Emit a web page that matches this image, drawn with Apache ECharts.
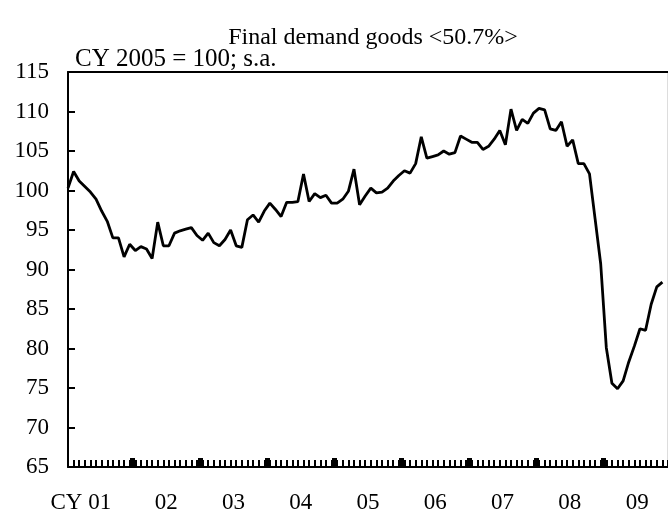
<!DOCTYPE html>
<html>
<head>
<meta charset="utf-8">
<script src="https://cdn.jsdelivr.net/npm/echarts@6/dist/echarts.min.js"></script>
<style>
    html, body { margin: 0; padding: 0; background: #fff; }
    #chart { width: 668px; height: 514px; }
</style>
</head>
<body>
<div id="chart"></div>
<script>
    // monthly index, CY 2005 = 100, Jan 2001 .. Nov 2009
    const yearLabels = ['CY 01', '02', '03', '04', '05', '06', '07', '08', '09'];
    const yTicks = [65, 115, 5]; // min, max, step

    const values = [
        100.3, 102.4, 101.2, 100.5, 99.8, 98.9, 97.4, 96.1, 94.0, 94.0, 91.6, 93.2,
        92.4, 92.9, 92.6, 91.4, 96.0, 93.0, 93.0, 94.6, 94.9, 95.1, 95.3, 94.3,
        93.7, 94.6, 93.4, 93.0, 93.8, 95.0, 93.0, 92.8, 96.3, 96.9, 96.0, 97.4,
        98.4, 97.6, 96.7, 98.5, 98.5, 98.6, 102.1, 98.6, 99.6, 99.1, 99.4, 98.4,
        98.4, 98.9, 99.9, 102.7, 98.2, 99.3, 100.3, 99.7, 99.8, 100.3, 101.2, 101.9,
        102.5, 102.2, 103.4, 106.8, 104.1, 104.3, 104.5, 105.0, 104.6, 104.8, 106.9, 106.5,
        106.1, 106.1, 105.2, 105.6, 106.5, 107.6, 105.8, 110.3, 107.6, 109.0, 108.5, 109.8,
        110.4, 110.2, 107.8, 107.6, 108.7, 105.6, 106.4, 103.4, 103.4, 102.1, 96.4, 90.7,
        80.1, 75.6, 74.9, 75.9, 78.3, 80.3, 82.5, 82.3, 85.6, 87.8, 88.4
    ];

    // 108 month slots: 2001/01 .. 2009/12
    const months = [];
    for (let y = 2001; y <= 2009; y++) {
        for (let m = 1; m <= 12; m++) {
            months.push(y + '/' + (m < 10 ? '0' + m : m));
        }
    }

    const yearEdges = [];
    const yearMids = [];
    for (let k = 0; k < yearLabels.length; k++) {
        if (k > 0) yearEdges.push(12 * k - 0.5);
        yearMids.push(12 * k + 5.5);
    }

    const font = 'Liberation Serif';
    const chart = echarts.init(document.getElementById('chart'));

    chart.setOption({
        animation: false,
        title: [{
            text: 'Final demand goods <50.7%>',
            left: 368,
            top: 21,
            textAlign: 'center',
            textStyle: { fontFamily: font, fontSize: 24, fontWeight: 'normal', color: '#000' }
        }, {
            text: 'CY 2005 = 100; s.a.',
            left: 70,
            top: 42,
            textStyle: { fontFamily: font, fontSize: 25, fontWeight: 'normal', color: '#000' }
        }],
        grid: {
            left: 68,
            right: 0,
            top: 72,
            bottom: 47,
            show: true,
            borderColor: '#bbb',
            borderWidth: 1
        },
        xAxis: [{
            type: 'category',
            data: months,
            boundaryGap: false,
            axisLine: { lineStyle: { color: '#000', width: 2 } },
            axisTick: { interval: 0, inside: true, length: 7, lineStyle: { color: '#000', width: 2 } },
            axisLabel: { show: false },
            splitLine: { show: false }
        }, {
            type: 'value',
            min: 0,
            max: months.length - 1,
            position: 'bottom',
            axisLine: { show: false },
            axisTick: {
                show: true,
                inside: true,
                length: 9,
                customValues: yearEdges,
                lineStyle: { color: '#000', width: 5 }
            },
            axisLabel: {
                show: true,
                customValues: yearMids,
                margin: 24,
                formatter: function (v) {
                    const k = Math.round((v - 5.5) / 12);
                    return k === 0 ? '{a|' + yearLabels[k] + '}{s|}' : yearLabels[k];
                },
                rich: {
                    a: { fontFamily: font, fontSize: 23, color: '#000' },
                    s: { width: 36 }
                },
                fontFamily: font,
                fontSize: 23,
                color: '#000'
            },
            splitLine: { show: false }
        }, {
            type: 'category',
            data: months,
            position: 'top',
            boundaryGap: false,
            axisLine: { lineStyle: { color: '#000', width: 2 } },
            axisTick: { show: false },
            axisLabel: { show: false }
        }],
        yAxis: {
            type: 'value',
            min: yTicks[0],
            max: yTicks[1],
            interval: yTicks[2],
            axisLine: { show: true, lineStyle: { color: '#000', width: 2 } },
            axisTick: { show: true, inside: true, length: 7, lineStyle: { color: '#000', width: 2 } },
            axisLabel: { margin: 19, fontFamily: font, fontSize: 23, color: '#000' },
            splitLine: { show: false }
        },
        series: [{
            type: 'line',
            data: values,
            xAxisIndex: 0,
            showSymbol: false,
            lineStyle: { color: '#000', width: 2.8 }
        }]
    });
</script>
</body>
</html>
